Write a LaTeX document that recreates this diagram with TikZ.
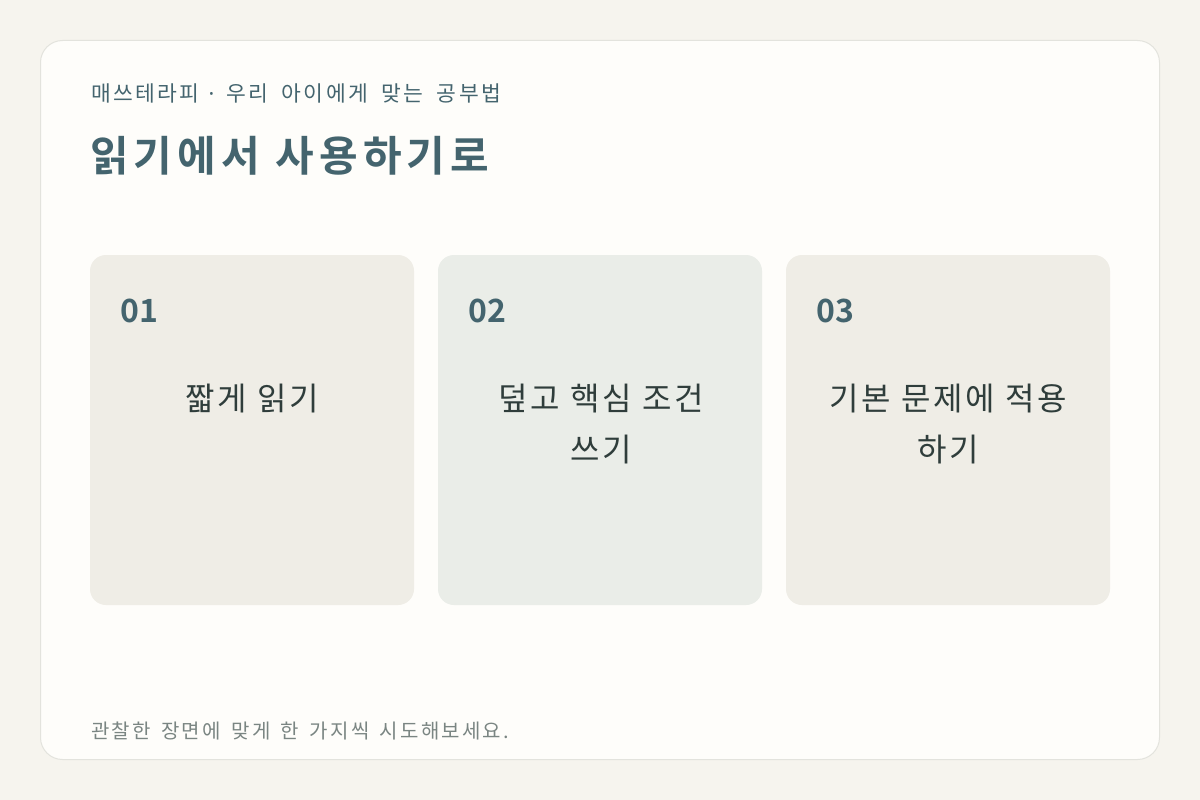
\documentclass[tikz,border=0pt]{standalone}
\usepackage{fontspec}
\setmainfont{Noto Sans CJK KR}
\newfontfamily\krsub[LetterSpace=11]{Noto Sans CJK KR}
\newfontfamily\krfoot[LetterSpace=11]{Noto Sans CJK KR}
\newfontfamily\krc[LetterSpace=8,WordSpace=1.46]{Noto Sans CJK KR}
\newfontfamily\krt[LetterSpace=12]{Noto Sans CJK KR Bold}
\newfontfamily\krb{Noto Sans CJK KR Bold}
\newfontfamily\dotf{Noto Sans}
\newcommand\sgap{\hspace{13.5pt}}
\newcommand\fgap{\hspace{10.5pt}}
\definecolor{pagebg}{HTML}{F6F4EE}
\definecolor{panelbg}{HTML}{FEFDFA}
\definecolor{panelline}{HTML}{E3E3DD}
\definecolor{cardA}{HTML}{EFEDE6}
\definecolor{cardB}{HTML}{EAEDE8}
\definecolor{titlec}{HTML}{44646E}
\definecolor{bodyc}{HTML}{2F3D3B}
\definecolor{footc}{HTML}{7A8582}
\begin{document}
\begin{tikzpicture}[x=1pt,y=-1pt,
  cardbox/.style={rounded corners=16pt},
  numlbl/.style={anchor=base west,inner sep=0pt,text=titlec,font=\krb\fontsize{32}{36}\selectfont},
  cardtxt/.style={inner sep=0pt,align=center,text width=300pt,text=bodyc,font=\krc\fontsize{32}{51}\selectfont}]
\useasboundingbox (0,0) rectangle (1200,800);
\fill[pagebg] (0,0) rectangle (1200,800);
\draw[panelline,fill=panelbg,rounded corners=22pt,line width=1pt] (40.5,40.5) rectangle (1159.5,759.5);
\node[anchor=base west,inner sep=0pt,text=titlec,font=\krsub\fontsize{21.5}{24}\selectfont] (sub) at (91,101) {매쓰테라피\hspace{9pt}{\dotf·}\hspace{12pt}우리\sgap 아이에게\sgap 맞는\sgap 공부법};
\node[anchor=base west,inner sep=0pt,text=titlec,font=\krt\fontsize{42}{48}\selectfont] (title) at (90,171) {읽기에서\hspace{16pt}사용하기로};
\fill[cardA,cardbox] (90,255) rectangle (414,605);
\fill[cardB,cardbox] (438,255) rectangle (762,605);
\fill[cardA,cardbox] (786,255) rectangle (1110,605);
\node[numlbl] (n1) at (120,322) {01};
\node[numlbl] (n2) at (468,322) {02};
\node[numlbl] (n3) at (816,322) {03};
\node[cardtxt,anchor=base] (t1) at (252,410) {짧게 읽기};
\node[cardtxt,anchor=base] (t2) at (601,410) {덮고 핵심 조건\\쓰기};
\node[cardtxt,anchor=base] (t3) at (948,410) {기본 문제에 적용\\하기};
\node[anchor=base west,inner sep=0pt,text=footc,font=\krfoot\fontsize{20}{24}\selectfont] (foot) at (91,738) {관찰한\fgap 장면에\fgap 맞게\fgap 한\fgap 가지씩\fgap 시도해보세요.};
\end{tikzpicture}
\end{document}
